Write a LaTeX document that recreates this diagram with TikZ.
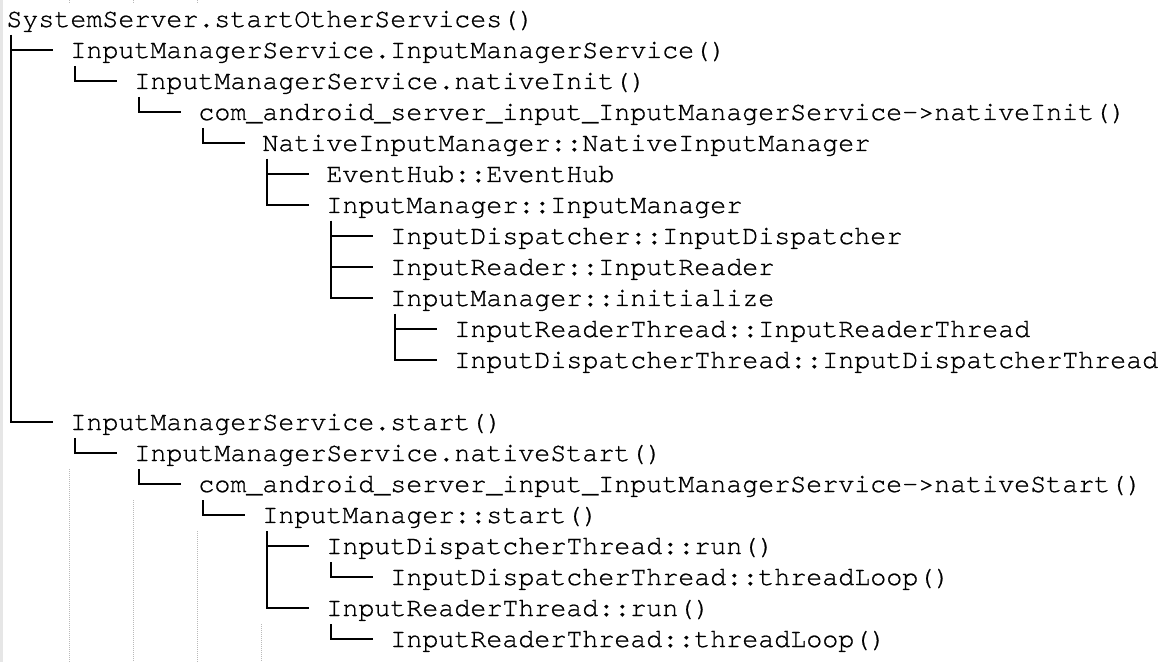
\documentclass[tikz,border=0pt]{standalone}
\usepackage{fontspec}
\usepackage{tikz}
\usetikzlibrary{calc}
\newfontfamily\codefont[FakeBold=0.8]{texgyrecursor-regular.otf}
\definecolor{guidegray}{RGB}{185,185,185}
\definecolor{marginbar}{RGB}{230,230,230}

\begin{document}
\begin{tikzpicture}[
  x=0.5pt, y=0.5pt,
  entry/.style={anchor=base west, inner sep=0pt,
                font=\codefont\fontsize{13.33}{15.5}\selectfont},
  branch/.style={line width=1pt, black},
  guide/.style={guidegray, line width=0.5pt, dash pattern=on 0.5pt off 0.5pt}
]
  \useasboundingbox (0,0) rectangle (1167,-662);
  \fill[marginbar] (0,0) rectangle (3,-662);

  % editor indent guides
  \draw[guide] (69,0) -- (69,-4);
  \draw[guide] (133,0) -- (133,-4);
  \draw[guide] (197,0) -- (197,-4);
  \draw[guide] (69,-469) -- (69,-662);
  \draw[guide] (133,-500) -- (133,-662);
  \draw[guide] (197,-531) -- (197,-662);
  \draw[guide] (261,-624) -- (261,-662);

  % init path
  \node[entry] (root) at (6,-27) {SystemServer.startOtherServices()};
  \node[entry] (ims) at (70,-58) {InputManagerService.InputManagerService()};
  \node[entry] (imsinit) at (134,-89) {InputManagerService.nativeInit()};
  \node[entry] (jniinit) at (198,-120)
    {com\_android\_server\_input\_InputManagerService->nativeInit()};
  \node[entry] (nim) at (262,-151) {NativeInputManager::NativeInputManager};
  \node[entry] (eventhub) at (326,-182) {EventHub::EventHub};
  \node[entry] (im) at (326,-213) {InputManager::InputManager};
  \node[entry] (dispatcher) at (390,-244) {InputDispatcher::InputDispatcher};
  \node[entry] (reader) at (390,-275) {InputReader::InputReader};
  \node[entry] (iminit) at (390,-306) {InputManager::initialize};
  \node[entry] (readerthr) at (454,-337) {InputReaderThread::InputReaderThread};
  \node[entry] (dispthr) at (454,-368)
    {InputDispatcherThread::InputDispatcherThread};

  % start path
  \node[entry] (imsstart) at (70,-430) {InputManagerService.start()};
  \node[entry] (imsnstart) at (134,-461) {InputManagerService.nativeStart()};
  \node[entry] (jnistart) at (198,-492)
    {com\_android\_server\_input\_InputManagerService->nativeStart()};
  \node[entry] (imstart) at (262,-523) {InputManager::start()};
  \node[entry] (dispatchrun) at (326,-554) {InputDispatcherThread::run()};
  \node[entry] (dispatchloop) at (390,-585) {InputDispatcherThread::threadLoop()};
  \node[entry] (readerrun) at (326,-616) {InputReaderThread::run()};
  \node[entry] (readerloop) at (390,-647) {InputReaderThread::threadLoop()};

  % tree branches
  \draw[branch] ($(root.base west)+(5,-8)$) |- ($(ims.base west)+(-17,8)$);
  \draw[branch] ($(root.base west)+(5,-8)$) |- ($(imsstart.base west)+(-17,8)$);
  \draw[branch] ($(ims.base west)+(5,-8)$) |- ($(imsinit.base west)+(-17,8)$);
  \draw[branch] ($(imsinit.base west)+(5,-8)$) |- ($(jniinit.base west)+(-17,8)$);
  \draw[branch] ($(jniinit.base west)+(5,-8)$) |- ($(nim.base west)+(-17,8)$);
  \draw[branch] ($(nim.base west)+(5,-8)$) |- ($(eventhub.base west)+(-17,8)$);
  \draw[branch] ($(nim.base west)+(5,-8)$) |- ($(im.base west)+(-17,8)$);
  \draw[branch] ($(im.base west)+(5,-8)$) |- ($(dispatcher.base west)+(-17,8)$);
  \draw[branch] ($(im.base west)+(5,-8)$) |- ($(reader.base west)+(-17,8)$);
  \draw[branch] ($(im.base west)+(5,-8)$) |- ($(iminit.base west)+(-17,8)$);
  \draw[branch] ($(iminit.base west)+(5,-8)$) |- ($(readerthr.base west)+(-17,8)$);
  \draw[branch] ($(iminit.base west)+(5,-8)$) |- ($(dispthr.base west)+(-17,8)$);
  \draw[branch] ($(imsstart.base west)+(5,-8)$) |- ($(imsnstart.base west)+(-17,8)$);
  \draw[branch] ($(imsnstart.base west)+(5,-8)$) |- ($(jnistart.base west)+(-17,8)$);
  \draw[branch] ($(jnistart.base west)+(5,-8)$) |- ($(imstart.base west)+(-17,8)$);
  \draw[branch] ($(imstart.base west)+(5,-8)$) |- ($(dispatchrun.base west)+(-17,8)$);
  \draw[branch] ($(imstart.base west)+(5,-8)$) |- ($(readerrun.base west)+(-17,8)$);
  \draw[branch] ($(dispatchrun.base west)+(5,-8)$) |- ($(dispatchloop.base west)+(-17,8)$);
  \draw[branch] ($(readerrun.base west)+(5,-8)$) |- ($(readerloop.base west)+(-17,8)$);

\end{tikzpicture}
\end{document}
